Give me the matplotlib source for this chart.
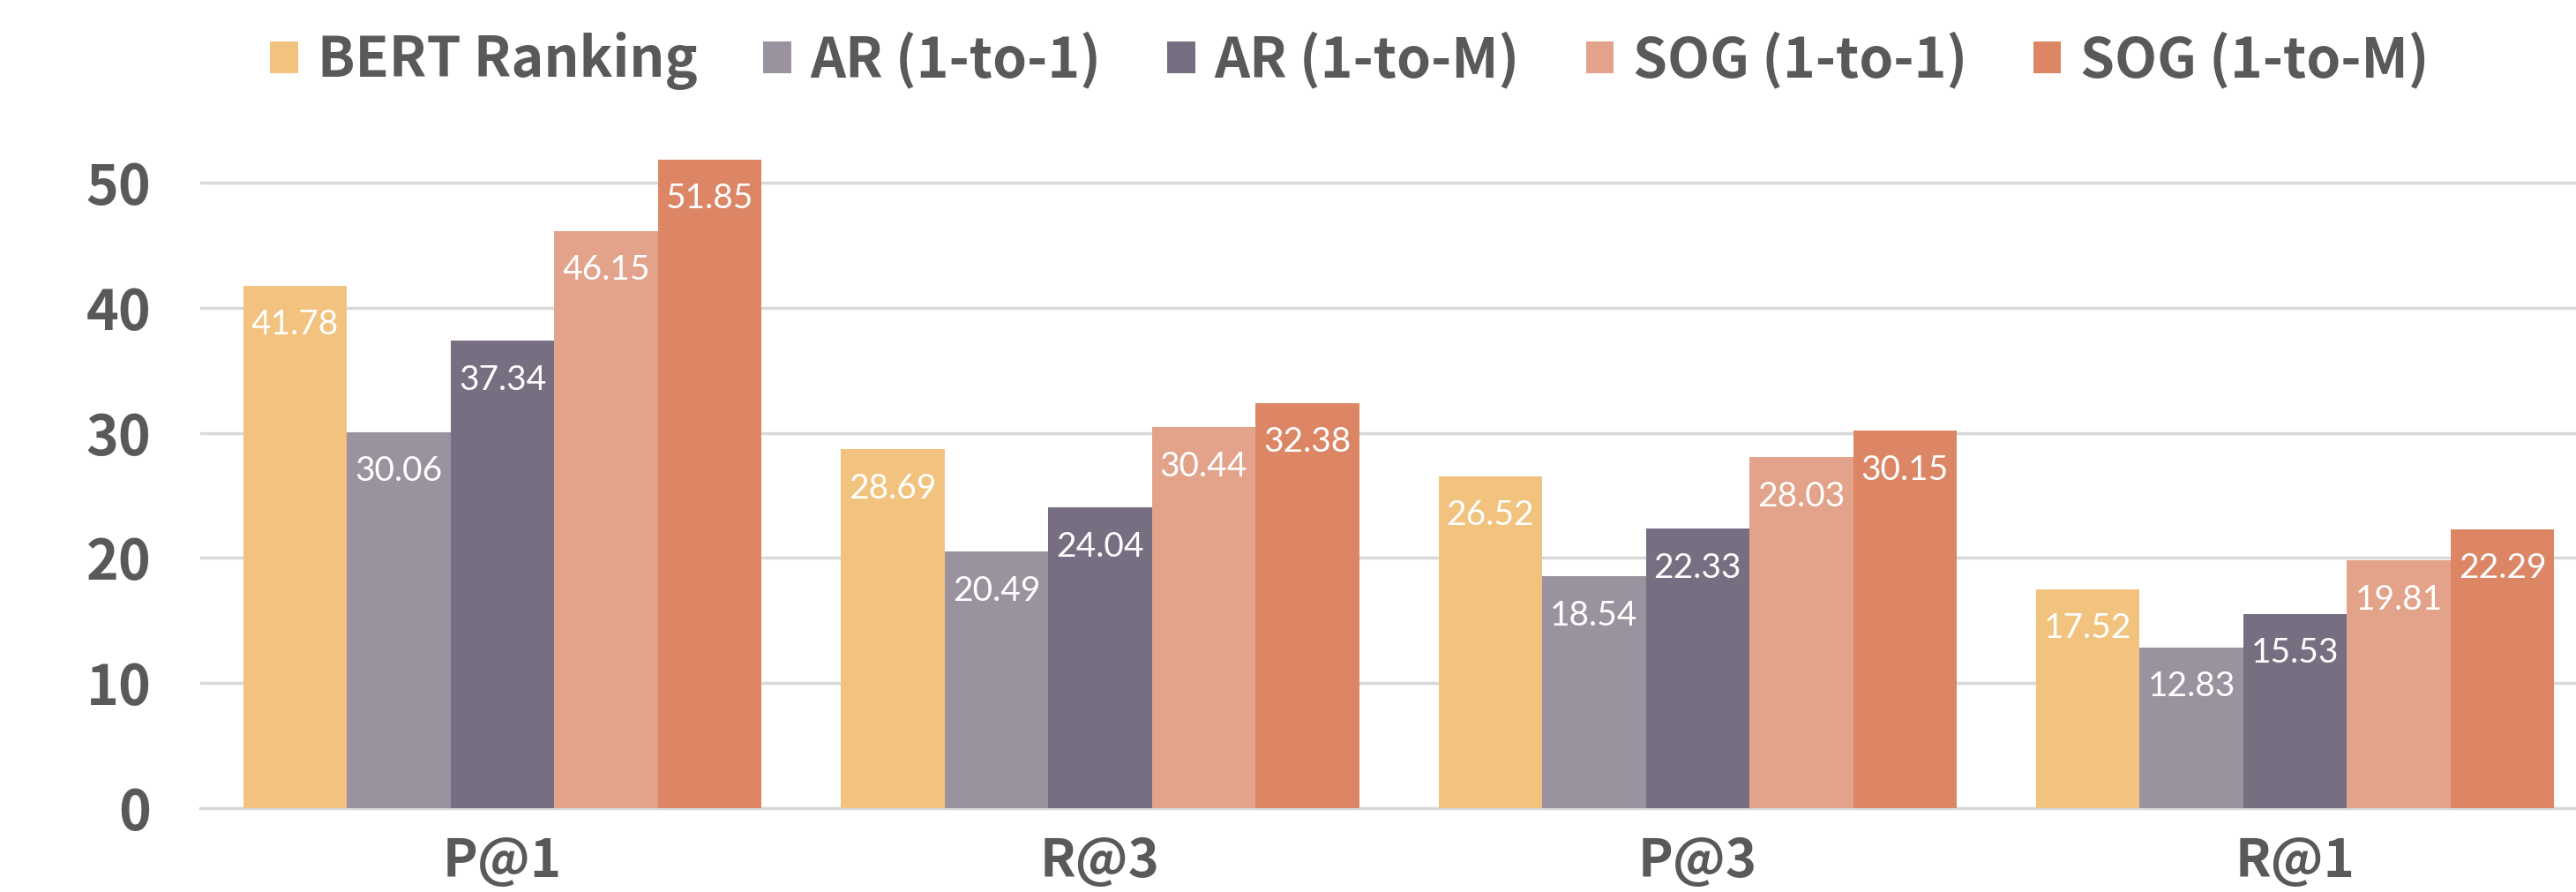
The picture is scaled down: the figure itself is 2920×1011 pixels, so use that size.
import numpy as np
import matplotlib
matplotlib.use('Agg')
from matplotlib import pyplot as plt

# data
categories = ['P@1', 'R@3', 'P@3', 'R@1']
series_names = ['BERT Ranking', 'AR (1-to-1)', 'AR (1-to-M)', 'SOG (1-to-1)', 'SOG (1-to-M)']
bert_ranking = [41.78, 28.69, 26.52, 17.52]
ar_1to1 = [30.06, 20.49, 18.54, 12.83]
ar_1toM = [37.34, 24.04, 22.33, 15.53]
sog_1to1 = [46.15, 30.44, 28.03, 19.81]
sog_1toM = [51.85, 32.38, 30.15, 22.29]
y_ticks = [0, 10, 20, 30, 40, 50]

colors = ['#F1C37E', '#9A939F', '#786E81', '#E3A28A', '#DC8665']
text_color = '#595959'
grid_color = '#D9D9D9'

main_font = ['Noto Sans CJK KR', 'DejaVu Sans']
label_font = ['Lato', 'DejaVu Sans']

fig = plt.figure(figsize=(29.2, 10.11), dpi=100)
ax = fig.add_axes([0.0777, 0.094, 0.9223, 0.8135])

all_series = [bert_ranking, ar_1to1, ar_1toM, sog_1to1, sog_1toM]
x = np.arange(len(categories))
bar_w = 0.1735
offsets = (np.arange(len(all_series)) - 2) * bar_w

handles = []
for vals, name, col, off in zip(all_series, series_names, colors, offsets):
    bars = ax.bar(x + off, vals, width=bar_w, color=col, label=name, zorder=3)
    handles.append(bars)
    for xi, v in zip(x + off, vals):
        ax.annotate(f'{v:.2f}', (xi, v), xytext=(0, -32), textcoords='offset points',
                    ha='center', va='center', color='white', fontsize=28,
                    family=label_font, zorder=4)

ax.set_xlim(-0.506, 3.47)
ax.set_ylim(0, 58)
ax.set_yticks(y_ticks)
ax.yaxis.grid(True, color=grid_color, linewidth=2.5, zorder=0)
ax.set_axisbelow(True)

for s in ['top', 'right', 'left']:
    ax.spines[s].set_visible(False)
ax.spines['bottom'].set_color(grid_color)
ax.spines['bottom'].set_linewidth(2.5)

ax.set_xticks(x)
ax.set_xticklabels(categories)
ax.tick_params(axis='both', length=0, colors=text_color, labelsize=45)
ax.tick_params(axis='x', pad=22)
ax.tick_params(axis='y', pad=40)
for lab in ax.get_xticklabels() + ax.get_yticklabels():
    lab.set_family(main_font)
    lab.set_fontweight('bold')
for lab in ax.get_xticklabels():
    lab.set_fontsize(43)

leg = fig.legend(handles=handles, labels=series_names, loc='center',
                 bbox_to_anchor=(0.524, 0.932), ncol=5, frameon=False,
                 prop={'family': main_font, 'size': 45, 'weight': 'bold'},
                 handlelength=0.5, handleheight=0.5, handletextpad=0.35,
                 columnspacing=1.2, labelcolor=text_color)

plt.savefig('out.png', dpi=100)
